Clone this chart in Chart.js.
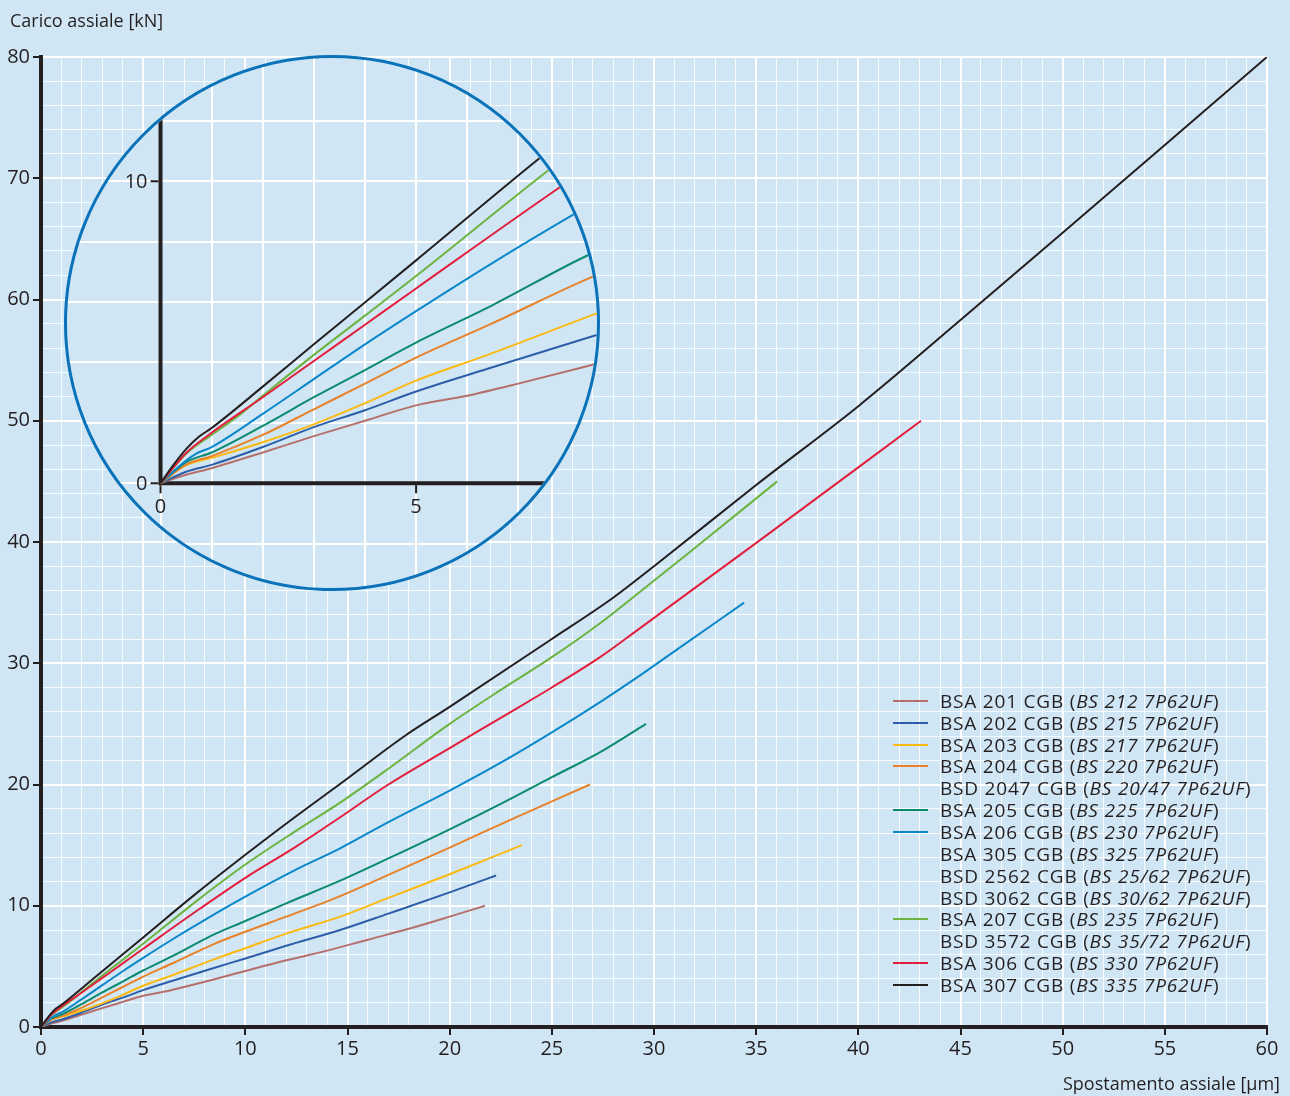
<!DOCTYPE html>
<html lang="it">
<head>
<meta charset="utf-8">
<title>Carico assiale - Spostamento assiale</title>
<script src="https://cdn.jsdelivr.net/npm/chart.js@4.4.1/dist/chart.umd.min.js"></script>
<style>
  html, body { margin: 0; padding: 0; background: #d0e6f5; }
  body { width: 1290px; height: 1096px; position: relative; overflow: hidden;
         font-family: 'Open Sans', sans-serif; color: #231f20; }
  #main { position: absolute; left: 0; top: 0; width: 1290px; height: 1096px; }
  #lens { position: absolute; left: 64px; top: 55px; width: 530px; height: 530px;
          border: 3px solid #0a72b9; border-radius: 50%; overflow: hidden; background: #d0e6f5; }
  #lens-box { position: absolute; left: 0; top: 0; width: 530px; height: 530px; }
  .axis-title { position: absolute; font-size: 18px; line-height: 18px; white-space: nowrap; }
  #ytitle { left: 10px; top: 11px; }
  #xtitle { right: 10px; top: 1074px; }
  #legend { position: absolute; left: 893px; top: 690px; font-size: 19px; letter-spacing: 0.8px; }
  .row { height: 21.85px; display: flex; align-items: center; white-space: nowrap; }
  .swatch { width: 35px; height: 2px; margin-right: 12px; flex: none; }
</style>
</head>
<body>
<div id="main"><canvas id="mainChart"></canvas></div>
<div id="lens"><div id="lens-box"><canvas id="lensChart"></canvas></div></div>
<div class="axis-title" id="ytitle">Carico assiale [kN]</div>
<div class="axis-title" id="xtitle">Spostamento assiale [µm]</div>
<div id="legend"></div>
<script>
(function () {
  'use strict';

  const INK = '#231f20';
  const FONT = "'Open Sans', sans-serif";

  // displacement [µm] / load [kN] per bearing
  const disp201 = [0, 0.5, 1, 2, 3, 4, 5, 6, 7, 8.4, 10, 12, 14, 16, 18, 20, 21.73];
  const load201 = [0, 0.28, 0.5, 1.02, 1.56, 2.07, 2.58, 2.9, 3.3, 3.9, 4.62, 5.5, 6.3, 7.2, 8.1, 9.1, 10];

  const disp202 = [0, 0.5, 1, 2, 3, 4, 5, 6.4, 8.5, 10, 12, 14.64, 17, 20, 22.27];
  const load202 = [0, 0.38, 0.61, 1.2, 1.86, 2.42, 3.04, 3.79, 4.89, 5.65, 6.7, 8.0, 9.35, 11.1, 12.5];

  const disp203 = [0, 0.5, 1, 2, 3, 4, 5, 6.4, 8.5, 10, 12, 14.64, 17, 20, 23.54];
  const load203 = [0, 0.6, 0.84, 1.36, 1.95, 2.65, 3.4, 4.25, 5.6, 6.5, 7.7, 9.1, 10.65, 12.6, 15];

  const disp204 = [0, 0.5, 1, 2, 3, 4, 5, 6.5, 8.4, 10, 12, 14.64, 17, 20, 23, 26.87];
  const load204 = [0, 0.62, 0.9, 1.6, 2.45, 3.3, 4.16, 5.3, 6.8, 7.86, 9.1, 10.8, 12.55, 14.8, 17.1, 20];

  const disp205 = [0, 0.5, 1, 2, 3, 4, 5, 6.5, 8.3, 10, 12, 14.64, 17, 20, 22.5, 25, 27.5, 29.61];
  const load205 = [0, 0.7, 1.02, 1.9, 2.85, 3.75, 4.66, 5.9, 7.5, 8.74, 10.2, 12.07, 13.9, 16.3, 18.4, 20.6, 22.8, 25];

  const disp206 = [0, 0.5, 0.7, 1, 2, 3, 4, 5, 6.5, 8, 10, 12.5, 14.64, 17, 20, 22.5, 25, 27.36, 29.32, 31.1, 34.41];
  const load206 = [0, 0.75, 0.98, 1.2, 2.3, 3.45, 4.6, 5.7, 7.3, 8.82, 10.75, 13.0, 14.74, 16.9, 19.5, 21.8, 24.3, 26.8, 29.0, 31.1, 35];

  const disp207 = [0, 0.5, 1, 1.5, 2, 3, 4, 5, 7.56, 10, 12.5, 14.64, 17, 20, 22.5, 25, 27.36, 29.32, 32, 36.03];
  const load207 = [0, 0.98, 1.6, 2.2, 2.9, 4.25, 5.55, 6.86, 10.32, 13.4, 16.2, 18.5, 21.3, 25.0, 27.8, 30.5, 33.3, 35.9, 39.5, 45];

  const disp306 = [0, 0.5, 0.94, 2, 3, 4, 5, 7.77, 10, 12.5, 14.64, 17, 20, 22.5, 25, 27.36, 29.32, 35.19, 43.07];
  const load306 = [0, 1.0, 1.6, 2.85, 4.05, 5.25, 6.45, 9.75, 12.3, 14.9, 17.3, 20.0, 23.0, 25.5, 28.0, 30.5, 32.9, 40.15, 50];

  const disp307 = [0, 0.25, 0.5, 0.75, 1, 2, 3, 5, 7.39, 10, 12.5, 15, 17.8, 20, 25, 28, 30, 35, 40, 45, 50, 55, 60];
  const load307 = [0, 0.6, 1.13, 1.54, 1.83, 3.2, 4.6, 7.38, 10.73, 14.2, 17.4, 20.5, 24.0, 26.4, 32.0, 35.4, 38.0, 44.7, 51.2, 58.3, 65.5, 72.75, 80];

  const seriesNames  = ['BSA 201 CGB', 'BSA 202 CGB', 'BSA 203 CGB', 'BSA 204 CGB', 'BSA 205 CGB',
                        'BSA 206 CGB', 'BSA 207 CGB', 'BSA 306 CGB', 'BSA 307 CGB'];
  const seriesColors = ['#b5706b', '#2e5ea8', '#fcb813', '#e8822a', '#0b8a6f',
                        '#0a87c9', '#6cb33f', '#e31e3c', '#231f20'];
  const seriesDisp = [disp201, disp202, disp203, disp204, disp205, disp206, disp207, disp306, disp307];
  const seriesLoad = [load201, load202, load203, load204, load205, load206, load207, load306, load307];

  // legend rows: name, italic code, index of the drawn line (null = no own line)
  const legendNames = ['BSA 201 CGB', 'BSA 202 CGB', 'BSA 203 CGB', 'BSA 204 CGB', 'BSD 2047 CGB',
                       'BSA 205 CGB', 'BSA 206 CGB', 'BSA 305 CGB', 'BSD 2562 CGB', 'BSD 3062 CGB',
                       'BSA 207 CGB', 'BSD 3572 CGB', 'BSA 306 CGB', 'BSA 307 CGB'];
  const legendCodes = ['BS 212 7P62UF', 'BS 215 7P62UF', 'BS 217 7P62UF', 'BS 220 7P62UF', 'BS 20/47 7P62UF',
                       'BS 225 7P62UF', 'BS 230 7P62UF', 'BS 325 7P62UF', 'BS 25/62 7P62UF', 'BS 30/62 7P62UF',
                       'BS 235 7P62UF', 'BS 35/72 7P62UF', 'BS 330 7P62UF', 'BS 335 7P62UF'];
  const legendLine = [0, 1, 2, 3, null, 4, 5, null, null, null, 6, null, 7, 8];

  // tick labels
  const xLabelsMain = [0, 5, 10, 15, 20, 25, 30, 35, 40, 45, 50, 55, 60];
  const yLabelsMain = [0, 10, 20, 30, 40, 50, 60, 70, 80];
  const xLabelsLens = [0, 5];
  const yLabelsLens = [0, 10];

  Chart.defaults.font.family = FONT;
  Chart.defaults.color = INK;

  function makeDatasets(width) {
    return seriesNames.map(function (name, i) {
      return {
        label: name,
        data: seriesDisp[i].map(function (d, k) { return { x: d, y: seriesLoad[i][k] }; }),
        showLine: true,
        borderColor: seriesColors[i],
        backgroundColor: seriesColors[i],
        borderWidth: width,
        pointRadius: 0,
        cubicInterpolationMode: 'monotone',
        fill: false
      };
    }).reverse();
  }

  function val(c) { return c && c.tick ? c.tick.value : NaN; }
  function isInt(v) { return Math.abs(v - Math.round(v)) < 1e-6; }

  function mainAxis(cfg) {
    return {
      type: 'linear',
      min: cfg.min,
      max: cfg.max,
      position: cfg.isX ? 'bottom' : 'left',
      afterFit: function (s) {
        if (cfg.isX) s.height = cfg.fitSize; else s.width = cfg.fitSize;
      },
      border: { display: true, color: INK, width: 4 },
      grid: {
        color: function (c) {
          const v = val(c);
          if (!isInt(v)) return 'rgba(255,255,255,0)';
          return Math.round(v) % cfg.major === 0 ? '#ffffff' : 'rgba(255,255,255,0.85)';
        },
        lineWidth: function (c) {
          const v = val(c);
          return isInt(v) && Math.round(v) % cfg.major === 0 ? 2 : 1;
        },
        drawTicks: true,
        tickLength: 8,
        tickWidth: 2,
        tickColor: function (c) {
          return cfg.labels.indexOf(val(c)) >= 0 ? INK : 'rgba(0,0,0,0)';
        }
      },
      ticks: {
        stepSize: cfg.step,
        autoSkip: false,
        maxRotation: 0,
        padding: cfg.isX ? 2 : 3,
        color: INK,
        font: { size: 20 },
        callback: function (v) { return cfg.labels.indexOf(v) >= 0 ? String(v) : ''; }
      }
    };
  }

  function lensAxis(cfg) {
    return {
      type: 'linear',
      min: cfg.min,
      max: cfg.max,
      position: cfg.isX ? 'bottom' : 'left',
      afterFit: function (s) {
        if (cfg.isX) s.height = 0; else s.width = 0;
      },
      border: { display: false },
      grid: {
        color: function (c) {
          const v = val(c);
          return isInt(v) && Math.round(v) % cfg.step === 0 ? '#ffffff' : 'rgba(255,255,255,0)';
        },
        lineWidth: 2,
        drawTicks: false
      },
      ticks: { display: false, stepSize: cfg.step, autoSkip: false }
    };
  }

  // main chart
  new Chart(document.getElementById('mainChart'), {
    type: 'scatter',
    data: { datasets: makeDatasets(2) },
    options: {
      responsive: true,
      maintainAspectRatio: false,
      animation: false,
      layout: { autoPadding: false, padding: { top: 57, right: 23, bottom: 0, left: 0 } },
      plugins: { legend: { display: false }, tooltip: { enabled: false } },
      scales: {
        x: mainAxis({ min: 0, max: 60, step: 1, major: 5, labels: xLabelsMain, fitSize: 69, isX: true }),
        y: mainAxis({ min: 0, max: 80, step: 2, major: 10, labels: yLabelsMain, fitSize: 41, isX: false })
      }
    }
  });

  // zoomed view in the circle (2.5x): axes, tick marks and labels at the 0 lines
  const lensAxes = {
    id: 'lensAxes',
    beforeDatasetsDraw: function (chart) {
      const ctx = chart.ctx;
      const area = chart.chartArea;
      const sx = chart.scales.x;
      const sy = chart.scales.y;
      const x0 = sx.getPixelForValue(0);
      const y0 = sy.getPixelForValue(0);
      ctx.save();
      ctx.strokeStyle = INK;
      ctx.lineWidth = 4;
      ctx.beginPath();
      ctx.moveTo(x0, area.top);
      ctx.lineTo(x0, y0 + 2);
      ctx.moveTo(x0 - 2, y0);
      ctx.lineTo(area.right, y0);
      ctx.stroke();

      ctx.lineWidth = 2;
      ctx.beginPath();
      yLabelsLens.forEach(function (v) {
        const p = sy.getPixelForValue(v);
        ctx.moveTo(x0 - 2, p);
        ctx.lineTo(x0 - 10, p);
      });
      xLabelsLens.forEach(function (v) {
        const p = sx.getPixelForValue(v);
        ctx.moveTo(p, y0 + 2);
        ctx.lineTo(p, y0 + 10);
      });
      ctx.stroke();

      ctx.fillStyle = INK;
      ctx.font = '20px ' + FONT;
      ctx.textAlign = 'right';
      ctx.textBaseline = 'middle';
      yLabelsLens.forEach(function (v) {
        ctx.fillText(String(v), x0 - 13, sy.getPixelForValue(v) + 1);
      });
      ctx.textAlign = 'center';
      xLabelsLens.forEach(function (v) {
        ctx.fillText(String(v), sx.getPixelForValue(v), y0 + 24);
      });
      ctx.restore();
    }
  };

  new Chart(document.getElementById('lensChart'), {
    type: 'scatter',
    data: { datasets: makeDatasets(2) },
    plugins: [lensAxes],
    options: {
      responsive: true,
      maintainAspectRatio: false,
      animation: false,
      layout: { autoPadding: false, padding: 0 },
      plugins: { legend: { display: false }, tooltip: { enabled: false } },
      scales: {
        x: lensAxis({ min: -1.83, max: 8.54, step: 1, isX: true }),
        y: lensAxis({ min: -3.467, max: 14.08, step: 2, isX: false })
      }
    }
  });

  // legend
  const legend = document.getElementById('legend');
  legendNames.forEach(function (name, i) {
    const row = document.createElement('div');
    row.className = 'row';
    const sw = document.createElement('span');
    sw.className = 'swatch';
    const li = legendLine[i];
    sw.style.background = li === null ? 'transparent' : seriesColors[li];
    row.appendChild(sw);
    const txt = document.createElement('span');
    txt.appendChild(document.createTextNode(name + ' ('));
    const em = document.createElement('i');
    em.textContent = legendCodes[i];
    txt.appendChild(em);
    txt.appendChild(document.createTextNode(')'));
    row.appendChild(txt);
    legend.appendChild(row);
  });
})();
</script>
</body>
</html>
